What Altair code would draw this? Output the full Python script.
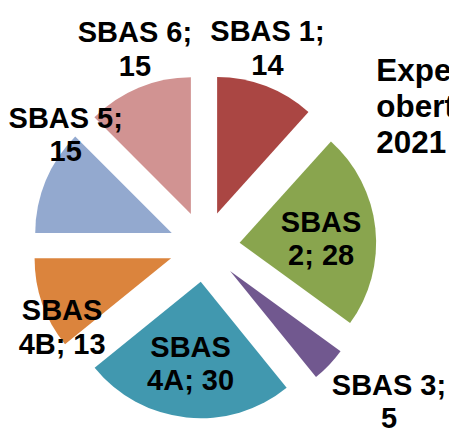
import math
import altair as alt
import pandas as pd

# ---- data ----
categories = ["SBAS 1", "SBAS 2", "SBAS 3", "SBAS 4A", "SBAS 4B", "SBAS 5", "SBAS 6"]
values = [14, 28, 5, 30, 13, 15, 15]
colors = ["#AA4643", "#89A54E", "#71588F", "#4198AF", "#DB843D", "#93A9CF", "#D19392"]
# how each data label wraps: after the full name, or after the word "SBAS"
wraps = ["name", "word", "name", "word", "word", "name", "name"]
# label placement (polar, relative to the pie centre): angle in degrees, distance in px
label_angle = [17.7, 86.6, 130.2, 186.7, 240.2, 308.7, 340.5]
label_dist = [211, 119, 246, 121, 167, 181, 212]
title_lines = "Expedients\noberts\n2021"

# ---- layout constants (chart coords; the page adds an 8px margin) ----
CX, CY = 200, 239      # pie centre
R = 139                # radius
EXPLODE = 36           # explosion distance
LH = 34                # label line height

def make_label(c, v, w):
    if w == "name":
        return f"{c};\n{v}"
    first, rest = c.split(" ", 1)
    return f"{first}\n{rest}; {v}"

df = pd.DataFrame({
    "cat": categories,
    "v": values,
    "order": list(range(len(categories))),
    "label": [make_label(c, v, w) for c, v, w in zip(categories, values, wraps)],
    "lang": label_angle,
    "ldist": label_dist,
})

base = alt.Chart(df).transform_joinaggregate(
    total="sum(v)"
).transform_window(
    cum="sum(v)", sort=[alt.SortField("order")], frame=[None, 0]
).transform_calculate(
    t1="datum.cum / datum.total * 2 * PI",
    t0="(datum.cum - datum.v) / datum.total * 2 * PI",
).transform_calculate(
    mid="(datum.t0 + datum.t1) / 2",
).transform_calculate(
    px=f"{CX} + {EXPLODE} * sin(datum.mid)",
    py=f"{CY} - {EXPLODE} * cos(datum.mid)",
    lx=f"{CX} + datum.ldist * sin(datum.lang * PI / 180)",
    ly=f"{CY} - datum.ldist * cos(datum.lang * PI / 180)",
)

slices = base.mark_arc(outerRadius=R, stroke=None).encode(
    x=alt.X("px:Q", scale=None, axis=None),
    y=alt.Y("py:Q", scale=None, axis=None),
    theta=alt.Theta("t0:Q", scale=None),
    theta2="t1:Q",
    color=alt.Color("cat:N", scale=alt.Scale(domain=categories, range=colors), legend=None),
)

# two-line labels: first line sits on the anchor, so lift by half a line to centre the block
labels = base.mark_text(
    font="Liberation Sans", fontWeight="bold", fontSize=29.5,
    lineBreak="\n", lineHeight=LH, align="center", baseline="middle", color="black",
    dy=-LH / 2,
).encode(
    x=alt.X("lx:Q", scale=None, axis=None),
    y=alt.Y("ly:Q", scale=None, axis=None),
    text="label:N",
)

title_df = pd.DataFrame({"t": [title_lines]})
title = alt.Chart(title_df).mark_text(
    font="Liberation Sans", fontWeight="bold", fontSize=32,
    lineBreak="\n", lineHeight=37, align="left", baseline="alphabetic", color="black",
).encode(
    x=alt.value(375), y=alt.value(70), text="t:N",
)

chart = alt.layer(slices, labels, title).properties(
    width=449, height=429, padding=0, autosize=alt.AutoSizeParams(type="none"),
).configure_view(stroke=None)

chart.save("out.html", embed_options={"renderer": "svg", "actions": False})
